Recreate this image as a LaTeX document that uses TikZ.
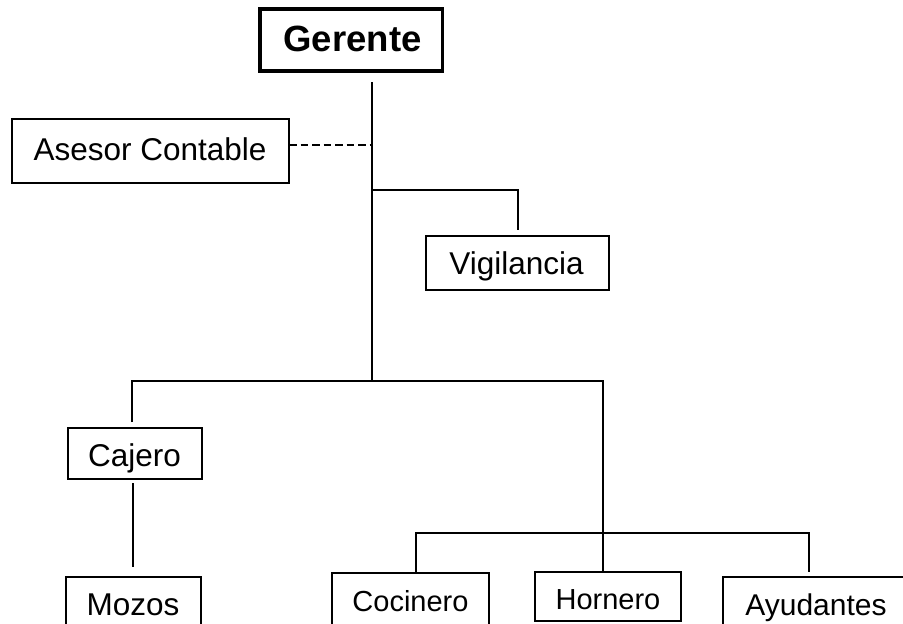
\documentclass[tikz,border=0pt]{standalone}
\usepackage{fontspec}
\setmainfont{Liberation Sans}
\begin{document}
\begin{tikzpicture}[x=1pt,y=-1pt,
  box/.style={draw, line width=1.2pt, rectangle, outer sep=0pt, inner sep=0pt},
  conn/.style={line width=1.7pt},
  dashconn/.style={line width=2pt, dash pattern=on 7.5pt off 4pt},
  lbl/.style={anchor=base, inner sep=0pt, font=\fontsize{31.5}{36}\selectfont},
  lblsmall/.style={anchor=base, inner sep=0pt, font=\fontsize{29}{34}\selectfont}]
\useasboundingbox (0,0) rectangle (903,624);
\clip (0,0) rectangle (903,624);
\fill[white] (0,0) rectangle (903,624);

% boxes
\node[box, line width=3.3pt, minimum width=182.5pt, minimum height=62pt] (ger) at (351.25,40) {};
\node[anchor=base, inner sep=0pt, font=\bfseries\fontsize{36.5}{42}\selectfont] (gert) at (352.5,51) {Gerente};
\node[box, minimum width=277pt, minimum height=64pt] (ase) at (150.5,151) {};
\node[lbl] (aset) at (150,160) {Asesor Contable};
\node[box, minimum width=183pt, minimum height=54pt] (vig) at (517.5,263) {};
\node[lbl] (vigt) at (516.5,274) {Vigilancia};
\node[box, minimum width=134pt, minimum height=51pt] (caj) at (135,453.5) {};
\node[lbl] (cajt) at (134.5,466) {Cajero};
\node[box, minimum width=135pt, minimum height=80pt] (moz) at (133.5,617) {};
\node[lbl] (mozt) at (133,615) {Mozos};
\node[box, minimum width=157pt, minimum height=80pt] (coc) at (410.5,613) {};
\node[lblsmall] (coct) at (410.5,611) {Cocinero};
\node[box, minimum width=146pt, minimum height=49pt] (hor) at (608,596.5) {};
\node[lblsmall] (hort) at (608,609.5) {Hornero};
\node[box, minimum width=200pt, minimum height=80pt] (ayu) at (823,617) {};
\node[anchor=base, inner sep=0pt, font=\fontsize{30}{35}\selectfont] (ayut) at (816,615) {Ayudantes};

% connector points
\coordinate (t0) at (372,82);
\coordinate (tA) at (372,144.5);
\coordinate (tV) at (372,190);
\coordinate (tJ) at (372,381);
\coordinate (vE) at (518,230);
\coordinate (cJ) at (132,381);
\coordinate (cE) at (132,422);
\coordinate (hJ) at (603,381);
\coordinate (kJ) at (603,533);
\coordinate (kL) at (416,533);
\coordinate (kR) at (809,533);
\coordinate (aE) at (809,572);
\coordinate (mS) at (133,483);
\coordinate (mE) at (133,567);

% connectors
\draw[conn] (t0) -- (tJ);
\draw[dashconn] (ase.east |- tA) -- (tA);
\draw[conn] (tV) -| (vE);
\draw[conn] (cE) -- (cJ) -- (hJ) -- (hJ |- hor.north);
\draw[conn] (kL |- coc.north) -- (kL) -- (kR) -- (aE);
\draw[conn] (mS) -- (mE);
\end{tikzpicture}
\end{document}
